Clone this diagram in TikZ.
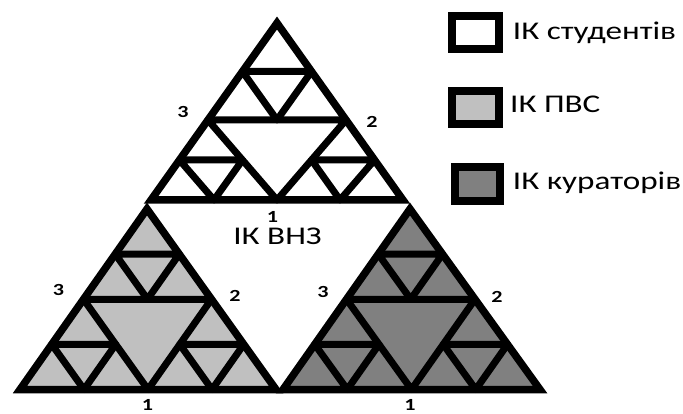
\documentclass[tikz,border=0pt]{standalone}
\usepackage{fontspec}
\setmainfont{Carlito}
\newfontfamily\lab[FakeStretch=1.3]{Carlito}
\usetikzlibrary{calc}
\definecolor{lgray}{HTML}{C0C0C0}
\definecolor{dgray}{HTML}{808080}
\tikzset{
  outer/.style={line width=7.5pt, line join=miter},
  inner/.style={line width=7pt, line join=round},
  num/.style={font=\lab\bfseries\fontsize{17}{17}\selectfont, inner sep=0pt},
  legtext/.style={font=\lab\fontsize{25.5}{25.5}\selectfont, inner sep=0pt, anchor=base west},
  legbox/.style={line width=8pt, line join=miter},
}
\newcommand\sierp[5]{%
  \coordinate (sL) at ($(#3)!#5!(#1)$);
  \coordinate (sR) at ($(#3)!#5!(#2)$);
  \coordinate (sM) at ($(#1)!0.5!(#2)$);
  \fill[#4] (#1)--(#2)--(#3)--cycle;
  \draw[inner] (sL)--(sR)--(sM)--cycle;
  \draw[inner] ($(sL)!0.5!(#3)$) -- ($(sR)!0.5!(#3)$) -- ($(sL)!0.5!(sR)$) -- cycle;
  \draw[inner] ($(#1)!0.5!(sL)$) -- ($(sL)!0.5!(sM)$) -- ($(#1)!0.5!(sM)$) -- cycle;
  \draw[inner] ($(sM)!0.5!(sR)$) -- ($(sR)!0.5!(#2)$) -- ($(sM)!0.5!(#2)$) -- cycle;
  \draw[outer] (#1)--(#2)--(#3)--cycle;
}
\begin{document}
\begin{tikzpicture}[x=1pt,y=-1pt]
\fill[white] (0,0) rectangle (683,414);
\useasboundingbox (0,0) rectangle (683,414);
% triangle corners
\coordinate (tA) at (151,200);
\coordinate (tB) at (403,200);
\coordinate (tC) at (277,23);
\coordinate (lA) at (20,389.5);
\coordinate (lB) at (276,389.5);
\coordinate (lC) at (147,209);
\coordinate (rA) at (283,389.5);
\coordinate (rB) at (540,389.5);
\coordinate (rC) at (410,209);
\sierp{tA}{tB}{tC}{white}{0.548}
\sierp{lA}{lB}{lC}{lgray}{0.5}
\sierp{rA}{rB}{rC}{dgray}{0.5}
% labels
\node[num] (t3) at (183,112) {3};
\node[num] (t2) at (372,122) {2};
\node[num] (t1) at (272.5,216.5) {1};
\node[legtext, anchor=base] (vnz) at (277.5,245) {ІК ВНЗ};
\node[num] (l3) at (58.5,290) {3};
\node[num] (l2) at (235,296) {2};
\node[num] (l1) at (147.5,405) {1};
\node[num] (r3) at (323,292) {3};
\node[num] (r2) at (497,297) {2};
\node[num] (r1) at (410,405) {1};
% legend
\draw[legbox, fill=white] (452,16) rectangle (499,49);
\draw[legbox, fill=lgray] (452,91) rectangle (499,124);
\draw[legbox, fill=dgray] (455,167) rectangle (500,201);
\node[legtext] (g1) at (512.7,39.3) {ІК студентів};
\node[legtext] (g2) at (510,113) {ІК ПВС};
\node[legtext] (g3) at (512.7,190) {ІК кураторів};
\end{tikzpicture}
\end{document}
